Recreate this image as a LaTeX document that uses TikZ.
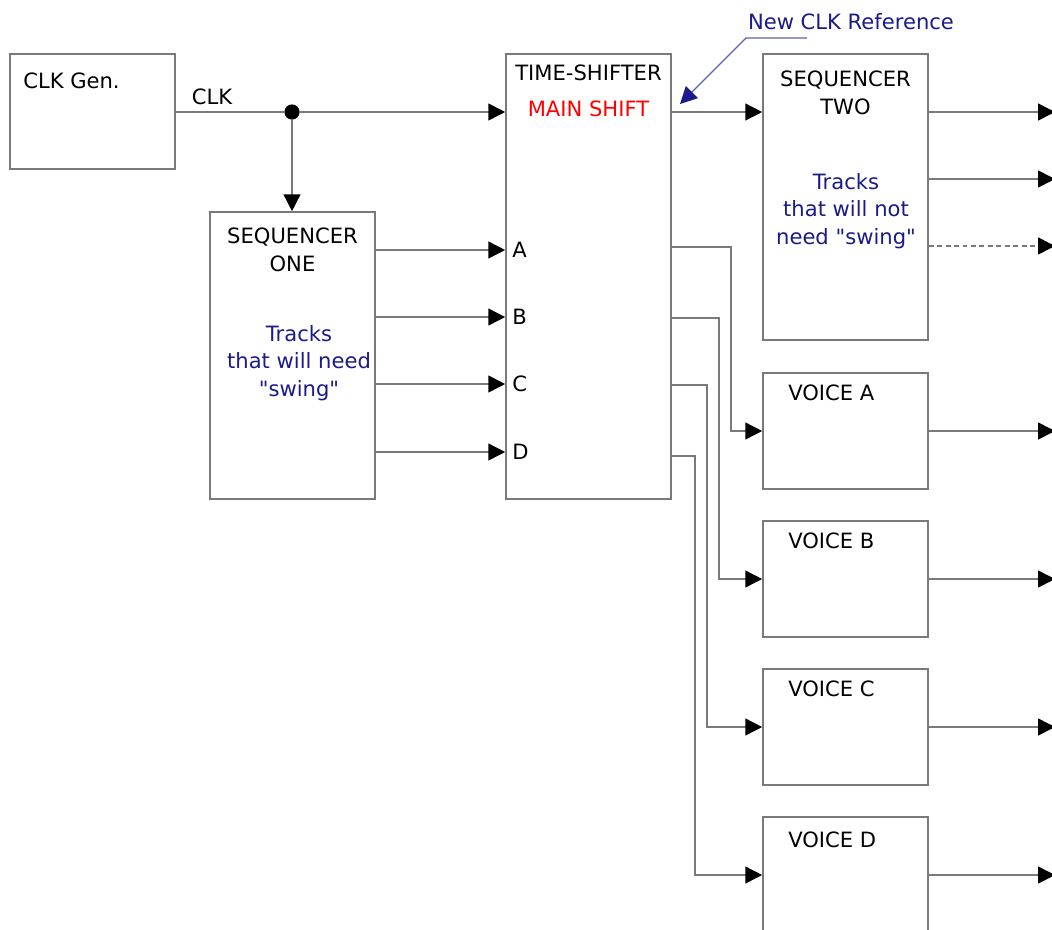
\documentclass[tikz,border=0pt]{standalone}
\usepackage{fontspec}
\setmainfont{DejaVu Sans}[Ligatures=TeXOff]
\usetikzlibrary{arrows.meta}
\definecolor{linegray}{HTML}{7A7A7A}
\definecolor{refblue}{HTML}{1A1A8A}
\begin{document}
\begin{tikzpicture}[x=0.025cm,y=-0.025cm,
        blk/.style={draw=linegray,line width=1.1pt,inner sep=0pt,minimum width=4.125cm},
        txt/.style={font=\fontsize{15}{19.5}\selectfont,align=center,inner sep=0pt},
        wire/.style={draw=linegray,line width=1.1pt},
        flow/.style={wire,-{Triangle[length=0.42cm,width=0.42cm,color=black,fill=black]}}]
                \useasboundingbox (0,0) rectangle (1052,929);
                % blocks
                \node[blk,minimum height=2.875cm] (clkgen) at (92.5,111.5) {};
                \node[blk,minimum height=7.175cm] (seqone) at (292.5,355.5) {};
                \node[blk,minimum height=11.125cm] (shifter) at (588.5,276.5) {};
                \node[blk,minimum height=7.15cm] (seqtwo) at (845.5,197) {};
                \node[blk,minimum height=2.9cm] (voicea) at (845.5,431) {};
                \node[blk,minimum height=2.9cm] (voiceb) at (845.5,579) {};
                \node[blk,minimum height=2.9cm] (voicec) at (845.5,727) {};
                \node[blk,minimum height=2.9cm] (voiced) at (845.5,875) {};
                % texts
                \node[txt,anchor=west] (clkgentxt) at (23,81) {CLK Gen.};
                \node[txt] (clktxt) at (212,97) {CLK};
                \node[txt] (seqonetxt) at (292.5,250) {SEQUENCER\\ONE};
                \node[txt,text=refblue] (seqonetrk) at (299,363) {Tracks\\that will need\\"swing"};
                \node[txt] (shiftertxt) at (588.5,73) {TIME-SHIFTER};
                \node[txt,text=red] (mainshift) at (588.5,109) {MAIN SHIFT};
                \node[txt] (seqtwotxt) at (845.5,93) {SEQUENCER\\TWO};
                \node[txt,text=refblue] (seqtwotrk) at (846,211) {Tracks\\that will not\\need "swing"};
                \node[txt,text=refblue] (newref) at (851,22) {New CLK Reference};
                \node[txt,anchor=west] (la) at (512,250) {A};
                \node[txt,anchor=west] (lb) at (512,317) {B};
                \node[txt,anchor=west] (lc) at (512,384) {C};
                \node[txt,anchor=west] (ld) at (512,452) {D};
                \node[txt,anchor=west] (voiceatxt) at (788,393) {VOICE A};
                \node[txt,anchor=west] (voicebtxt) at (788,541) {VOICE B};
                \node[txt,anchor=west] (voicectxt) at (788,689) {VOICE C};
                \node[txt,anchor=west] (voicedtxt) at (788,840) {VOICE D};
                % clock
                \node[circle,fill=black,minimum size=0.38cm,inner sep=0pt] (split) at (292,112) {};
                \draw[wire] (clkgen.east |- split) -- (split);
                \draw[flow] (split) -- (shifter.west |- split);
                \draw[flow] (split) -- (split |- seqone.north);
                \draw[flow] (shifter.east |- split) -- (seqtwo.west |- split);
                % tracks into the shifter
                \draw[flow] (seqone.east |- la) -- (shifter.west |- la);
                \draw[flow] (seqone.east |- lb) -- (shifter.west |- lb);
                \draw[flow] (seqone.east |- lc) -- (shifter.west |- lc);
                \draw[flow] (seqone.east |- ld) -- (shifter.west |- ld);
                % shifted tracks to the voices
                \draw[flow] (shifter.east |- 0,247) -- (731,247) |- (voicea.west);
                \draw[flow] (shifter.east |- 0,318) -- (719,318) |- (voiceb.west);
                \draw[flow] (shifter.east |- 0,385) -- (707,385) |- (voicec.west);
                \draw[flow] (shifter.east |- 0,456) -- (695,456) |- (voiced.west);
                % outputs
                \coordinate (outone) at (1055,112);
                \coordinate (outtwo) at (1055,179);
                \coordinate (outthree) at (1055,246);
                \draw[flow] (seqtwo.east |- outone) -- (outone);
                \draw[flow] (seqtwo.east |- outtwo) -- (outtwo);
                \draw[flow,dash pattern=on 3.5pt off 2.5pt] (seqtwo.east |- outthree) -- (outthree);
                \draw[flow] (voicea.east) -- (voicea.east -| outone);
                \draw[flow] (voiceb.east) -- (voiceb.east -| outone);
                \draw[flow] (voicec.east) -- (voicec.east -| outone);
                \draw[flow] (voiced.east) -- (voiced.east -| outone);
                % new reference
                \coordinate (refstart) at (807,38);
                \coordinate (refbend) at (746,38);
                \coordinate (reftip) at (680,104);
                \draw[draw=refblue!70,line width=0.9pt,-{Triangle[length=0.42cm,width=0.42cm,color=refblue,fill=refblue]}] (refstart) -- (refbend) -- (reftip);
            \end{tikzpicture}
\end{document}
